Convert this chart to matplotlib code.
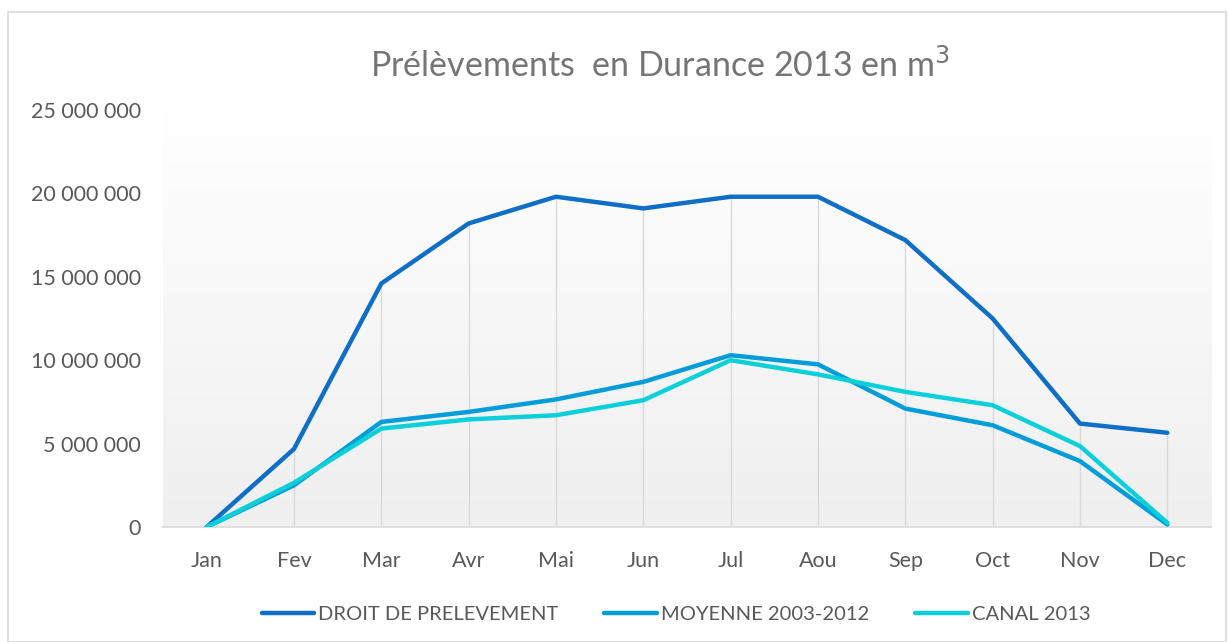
import numpy as np
import matplotlib
matplotlib.use("Agg")
import matplotlib.pyplot as plt
from matplotlib.ticker import FuncFormatter
from matplotlib.patches import Rectangle

plt.rcParams['font.family'] = ['Lato', 'DejaVu Sans']

months = ["Jan", "Fev", "Mar", "Avr", "Mai", "Jun", "Jul", "Aou", "Sep", "Oct", "Nov", "Dec"]
droit = [0, 4.68e6, 14.6e6, 18.2e6, 19.8e6, 19.1e6, 19.8e6, 19.8e6, 17.2e6, 12.5e6, 6.2e6, 5.65e6]
moyenne = [0, 2.5e6, 6.3e6, 6.9e6, 7.65e6, 8.7e6, 10.3e6, 9.75e6, 7.1e6, 6.1e6, 3.95e6, 0.15e6]
canal = [0, 2.65e6, 5.9e6, 6.45e6, 6.7e6, 7.6e6, 10.0e6, 9.15e6, 8.1e6, 7.3e6, 4.85e6, 0.25e6]

fig = plt.figure(figsize=(12.28, 6.42), dpi=100)
fig.patches.append(Rectangle((8/1228, 0), 1 - 10/1228, 1 - 12/642, transform=fig.transFigure,
                             fill=False, edgecolor='#d9d9d9', linewidth=1.2))

ax = fig.add_axes([163/1228, 1 - 527/642, (1211 - 163)/1228, (527 - 110)/642])

# fond en dégradé
grad = np.linspace(0, 1, 256).reshape(-1, 1)
ax.imshow(grad, extent=[0, 1, 0, 1], transform=ax.transAxes, aspect='auto',
          cmap=matplotlib.colors.LinearSegmentedColormap.from_list('g', ['#ffffff', '#efefef']),
          zorder=0, origin='upper')

x = np.arange(len(months))
# lignes de projection (du zéro jusqu'à la valeur max de chaque mois)
tops = np.maximum.reduce([droit, moyenne, canal])
ax.vlines(x, 0, tops, color='#d9d9d9', linewidth=1, zorder=1)

ax.plot(x, droit, color='#0F6FC6', linewidth=3.2, label="DROIT DE PRELEVEMENT", zorder=3, solid_capstyle='round')
ax.plot(x, moyenne, color='#009DD9', linewidth=3.2, label="MOYENNE 2003-2012", zorder=3, solid_capstyle='round')
ax.plot(x, canal, color='#0BD0D9', linewidth=3.2, label="CANAL 2013", zorder=3, solid_capstyle='round')

ax.set_xlim(-0.5, 11.5)
ax.set_ylim(0, 25e6)
ax.set_xticks(x)
ax.set_xticklabels(months)
ax.set_yticks(np.arange(0, 25e6 + 1, 5e6))
ax.yaxis.set_major_formatter(FuncFormatter(lambda v, p: f"{int(v):,}".replace(",", " ")))

for s in ['left', 'right', 'top']:
    ax.spines[s].set_visible(False)
ax.spines['bottom'].set_color('#d9d9d9')
ax.spines['bottom'].set_linewidth(1.2)
ax.tick_params(axis='both', length=0, labelsize=15.5, colors='#595959')
ax.tick_params(axis='x', pad=17)
ax.tick_params(axis='y', pad=16)

fig.text(660/1228, 1 - 65/642, "Prélèvements  en Durance 2013 en m$^3$", ha='center', va='center',
         fontsize=24.5, color='#757575')

leg = fig.legend(loc='center', bbox_to_anchor=(676/1228, 1 - 614/642), ncol=3, frameon=False,
                 fontsize=14.5, handlelength=2.6, columnspacing=2.3, handletextpad=0.2)
for t in leg.get_texts():
    t.set_color('#595959')

fig.savefig("out.png", dpi=100)
